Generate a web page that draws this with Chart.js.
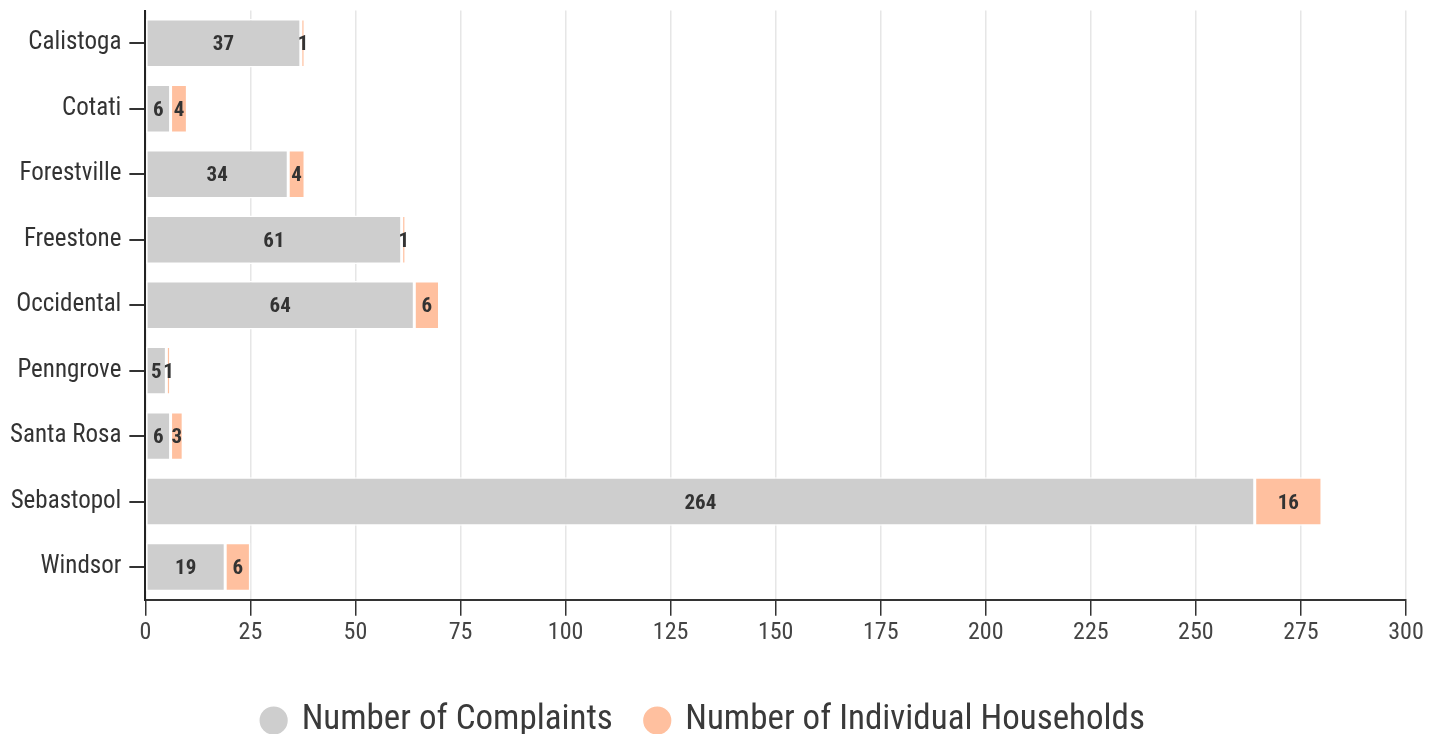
<!DOCTYPE html>
<html>
<head>
<meta charset="utf-8">
<script src="https://cdn.jsdelivr.net/npm/chart.js@4"></script>
<style>
  html, body { margin: 0; padding: 0; background: #fff; }
  #wrap { width: 1438px; height: 734px; }
</style>
</head>
<body>
<div id="wrap"><canvas id="chart"></canvas></div>
<script>
const towns = ['Calistoga', 'Cotati', 'Forestville', 'Freestone', 'Occidental', 'Penngrove', 'Santa Rosa', 'Sebastopol', 'Windsor'];
const complaints = [37, 6, 34, 61, 64, 5, 6, 264, 19];
const households = [1, 4, 4, 1, 6, 1, 3, 16, 6];
const xTicks = [0, 25, 50, 75, 100, 125, 150, 175, 200, 225, 250, 275, 300];

const FONT = "'Roboto Condensed', 'Liberation Sans Narrow', Roboto, sans-serif";

// draws the value in the middle of every segment
const valueLabels = {
  id: 'valueLabels',
  afterDatasetsDraw(chart) {
    const ctx = chart.ctx;
    ctx.save();
    ctx.font = 'bold 21px ' + FONT;
    ctx.fillStyle = '#333';
    ctx.textAlign = 'center';
    ctx.textBaseline = 'middle';
    chart.data.datasets.forEach((ds, i) => {
      chart.getDatasetMeta(i).data.forEach((bar, j) => {
        const x = (bar.x + bar.base) / 2;
        ctx.fillText(ds.data[j], x, bar.y + 2);
      });
    });
    ctx.restore();
  }
};

new Chart(document.getElementById('chart').getContext('2d'), {
  type: 'bar',
  data: {
    labels: towns,
    datasets: [{
      label: 'Number of Complaints',
      data: complaints,
      backgroundColor: '#cecece',
      borderColor: '#fff',
      borderWidth: 1.5,
      borderSkipped: false,
    }, {
      label: 'Number of Individual Households',
      data: households,
      backgroundColor: '#ffc09f',
      borderColor: '#fff',
      borderWidth: 1.5,
      borderSkipped: false,
    }]
  },
  options: {
    indexAxis: 'y',
    responsive: true,
    maintainAspectRatio: false,
    animation: false,
    datasets: { bar: { barPercentage: 0.74, categoryPercentage: 1 } },
    layout: { padding: { top: 0, right: 32, left: 2, bottom: -14 } },
    plugins: {
      tooltip: { enabled: false },
      legend: {
        position: 'bottom',
        labels: {
          usePointStyle: true,
          pointStyle: 'circle',
          boxWidth: 21,
          boxHeight: 21,
          padding: 34,
          color: '#3a3a3a',
          font: { family: FONT, size: 35 }
        }
      }
    },
    scales: {
      x: {
        stacked: true,
        min: 0,
        max: 300,
        afterBuildTicks: axis => { axis.ticks = xTicks.map(v => ({ value: v })); },
        grid: { color: '#e6e6e6', lineWidth: 1.5, tickColor: '#333', tickLength: 16 },
        border: { color: '#333', width: 2 },
        ticks: { color: '#444', padding: 3, font: { family: FONT, size: 24 } },
        title: { display: true, text: ' ', padding: { top: 4, bottom: 0 }, font: { size: 12 } }
      },
      y: {
        stacked: true,
        grid: { offset: false, drawOnChartArea: false, color: '#333', tickColor: '#333', tickLength: 16, lineWidth: 2 },
        border: { color: '#222', width: 2 },
        ticks: { color: '#333', padding: 8, font: { family: FONT, size: 25, lineHeight: 0.2 } }
      }
    }
  },
  plugins: [valueLabels]
});
</script>
</body>
</html>
